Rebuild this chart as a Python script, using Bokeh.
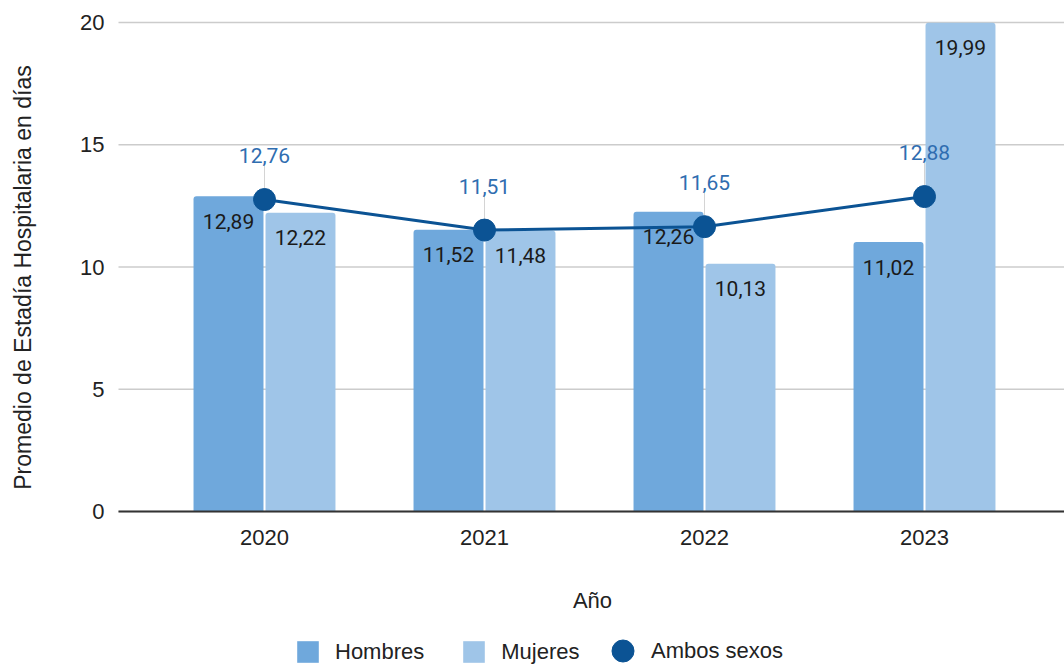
import math
from bokeh.plotting import figure
from bokeh.models import ColumnDataSource, Range1d, Legend, LegendItem, Label
from bokeh.embed import file_html
from bokeh.resources import INLINE
from bokeh.core.properties import value

years = ["2020", "2021", "2022", "2023"]
hombres = [12.89, 11.52, 12.26, 11.02]
mujeres = [12.22, 11.48, 10.13, 19.99]
ambos = [12.76, 11.51, 11.65, 12.88]
yticks = [0, 5, 10, 15, 20]
y_title = "Promedio de Estadía Hospitalaria en días"
x_title = "Año"

def fmt(v):
    return f"{v:.2f}".replace(".", ",")

W, H = 1064, 667
PX_X = 220.0       # pixels per category
PX_Y = 24.45       # pixels per unit
X0_PX, Y0_PX = 264, 511
X_START = -X0_PX / PX_X
X_END = (W - X0_PX) / PX_X
Y_END = Y0_PX / PX_Y
Y_START = -(H - Y0_PX) / PX_Y
PLOT_LEFT = (118 - X0_PX) / PX_X

xs = list(range(len(years)))
off = 0.1636
bw = 0.318

src_h = ColumnDataSource(dict(x=[x - off for x in xs], y=hombres, lab=[fmt(v) for v in hombres]))
src_m = ColumnDataSource(dict(x=[x + off for x in xs], y=mujeres, lab=[fmt(v) for v in mujeres]))
src_a = ColumnDataSource(dict(x=xs, y=ambos, lab=[fmt(v) for v in ambos],
                              ytop=[v + 34 / PX_Y for v in ambos]))
src_yt = ColumnDataSource(dict(x=[PLOT_LEFT] * len(yticks), x1=[X_END] * len(yticks), y=yticks,
                               lab=[str(t) for t in yticks]))
src_xt = ColumnDataSource(dict(x=xs, y=[0] * len(xs), lab=years))

p = figure(width=W, height=H, output_backend="svg", toolbar_location=None,
           x_range=Range1d(X_START, X_END), y_range=Range1d(Y_START, Y_END),
           x_axis_location=None, y_axis_location=None,
           min_border_left=0, min_border_right=0, min_border_top=0, min_border_bottom=0)
p.outline_line_color = None
p.background_fill_color = "white"
p.xgrid.visible = False
p.ygrid.visible = False

FONT = "Liberation Sans"
LFONT = "Roboto"
TXT = "#222222"

# gridlines
p.segment(x0="x", x1="x1", y0="y", y1="y", source=src_yt, line_color="#cccccc", line_width=1.5)

rh = p.vbar(x="x", top="y", width=bw, source=src_h, fill_color="#6fa8dc", line_color=None,
            border_radius=(3, 3, 0, 0))
rm = p.vbar(x="x", top="y", width=bw, source=src_m, fill_color="#9fc5e8", line_color=None,
            border_radius=(3, 3, 0, 0))

# baseline axis
p.segment(x0=[PLOT_LEFT], x1=[X_END], y0=[yticks[0]], y1=[yticks[0]], line_color="#333333",
          line_width=2)

# leader lines
p.segment(x0="x", x1="x", y0="y", y1="ytop", source=src_a, line_color="#d4d4d4", line_width=1)

rl = p.line(x="x", y="y", source=src_a, line_color="#0b5394", line_width=3)
rc = p.scatter(x="x", y="y", source=src_a, size=22, fill_color="#0b5394", line_color="#0b5394")

p.text(x="x", y="y", text="lab", source=src_h, text_align="center", text_baseline="middle",
       y_offset=25, text_font=value(LFONT), text_font_size="21px", text_color="#1a1a1a")
p.text(x="x", y="y", text="lab", source=src_m, text_align="center", text_baseline="middle",
       y_offset=25, text_font=value(LFONT), text_font_size="21px", text_color="#1a1a1a")
p.text(x="x", y="y", text="lab", source=src_a, text_align="center", text_baseline="middle",
       y_offset=-44, text_font=value(LFONT), text_font_size="21px", text_color="#2f6db0")

# y tick labels
p.text(x="x", y="y", text="lab", source=src_yt, text_align="right", text_baseline="middle",
       x_offset=-14, text_font=value(FONT), text_font_size="22px", text_color=TXT)
# x tick labels
p.text(x="x", y="y", text="lab", source=src_xt, text_align="center", text_baseline="middle",
       y_offset=26, text_font=value(FONT), text_font_size="22px", text_color=TXT)

# axis titles
p.add_layout(Label(x=22, y=H - 277, x_units="screen", y_units="screen", text=y_title,
                   angle=math.pi / 2, text_align="center", text_baseline="middle",
                   text_font=FONT, text_font_size="23px", text_color=TXT))
p.add_layout(Label(x=592, y=H - 600, x_units="screen", y_units="screen", text=x_title,
                   text_align="center", text_baseline="middle",
                   text_font=FONT, text_font_size="22px", text_color=TXT))

common = dict(orientation="horizontal", label_text_font=FONT, label_text_font_size="22px",
              label_text_color=TXT, padding=0, margin=0, border_line_color=None,
              background_fill_alpha=0, label_text_baseline="middle")
leg1 = Legend(items=[LegendItem(label="Hombres", renderers=[rh]),
                     LegendItem(label="Mujeres", renderers=[rm])],
              location=(294, 2), glyph_width=27, glyph_height=27, label_height=22,
              label_standoff=14, spacing=36, **common)
leg2 = Legend(items=[LegendItem(label="Ambos sexos", renderers=[rc])],
              location=(595, H - 678), glyph_width=55, glyph_height=55, label_height=22,
              label_standoff=1, spacing=0, **common)
p.add_layout(leg1)
p.add_layout(leg2)

open("out.html", "w").write(file_html(p, INLINE))
